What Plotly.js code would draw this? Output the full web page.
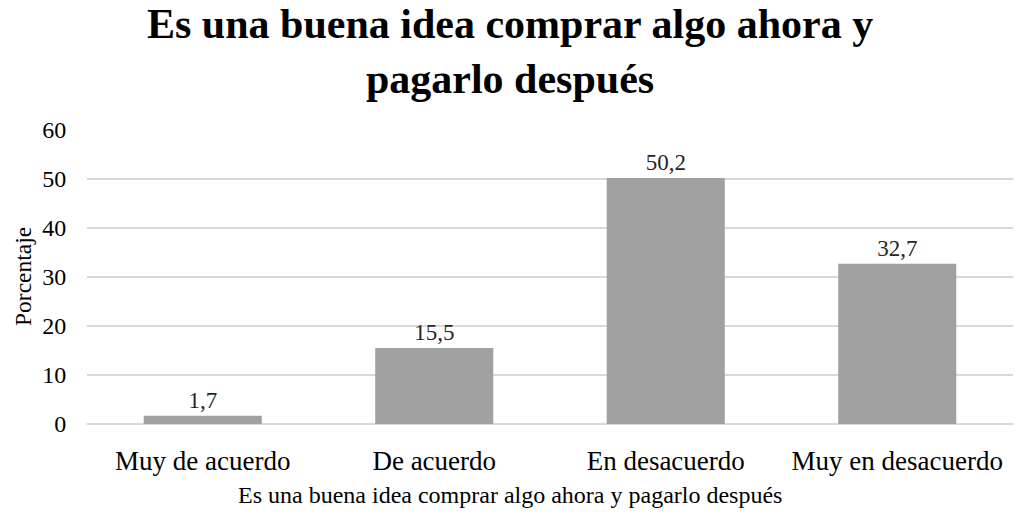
<!DOCTYPE html>
<html>
<head>
<meta charset="utf-8">
<script src="https://cdn.plot.ly/plotly-3.0.1.min.js"></script>
<style>html,body{margin:0;padding:0;background:#fff;}#chart{width:1021px;height:514px;}</style>
</head>
<body>
<div id="chart"></div>
<script>
const categories = ["Muy de acuerdo", "De acuerdo", "En desacuerdo", "Muy en desacuerdo"];
const values = [1.7, 15.5, 50.2, 32.7];
const yTicks = [0, 10, 20, 30, 40, 50, 60];
const titleText = "Es una buena idea comprar algo ahora y<br>pagarlo después";
const xTitleText = "Es una buena idea comprar algo ahora y pagarlo después";
const yTitleText = "Porcentaje";

const font = "'Liberation Serif', 'Times New Roman', serif";

const trace = {
  type: 'bar',
  x: categories,
  y: values,
  marker: {color: '#a0a0a0', line: {width: 0}},
  texttemplate: '%{y:.1f}',
  textposition: 'outside',
  cliponaxis: false,
  textfont: {family: font, size: 23, color: '#262626'},
  hoverinfo: 'none'
};

const px = (p) => (p - 87) / 926;

const layout = {
  width: 1021, height: 514,
  margin: {l: 87, r: 8, t: 130, b: 90},
  paper_bgcolor: '#fff', plot_bgcolor: '#fff',
  separators: ',.',
  bargap: 0.49,
  showlegend: false,
  annotations: [
    {
      text: '<b>' + titleText + '</b>',
      xref: 'paper', yref: 'paper',
      x: px(510), y: 1, yshift: 26,
      xanchor: 'center', yanchor: 'bottom',
      showarrow: false,
      font: {family: font, size: 42, color: '#000'}
    },
    {
      text: xTitleText,
      xref: 'paper', yref: 'paper',
      x: px(510), y: 0, yshift: -71,
      xanchor: 'center', yanchor: 'middle',
      showarrow: false,
      font: {family: font, size: 24, color: '#000'}
    },
    {
      text: yTitleText,
      xref: 'paper', yref: 'paper',
      x: 0, xshift: -64, y: 0.5,
      xanchor: 'center', yanchor: 'middle',
      textangle: -90,
      showarrow: false,
      font: {family: font, size: 23.5, color: '#000'}
    }
  ],
  xaxis: {
    type: 'category',
    showgrid: false, showline: false, zeroline: false,
    ticks: 'outside', ticklen: 13, tickcolor: 'rgba(0,0,0,0)',
    tickfont: {family: font, size: 27, color: '#000'}
  },
  yaxis: {
    range: [0, 60], tickvals: yTicks,
    showgrid: true, gridcolor: '#d9d9d9', gridwidth: 1.5,
    zeroline: true, zerolinecolor: '#d9d9d9', zerolinewidth: 1.5,
    showline: false,
    ticks: 'outside', ticklen: 15, tickcolor: 'rgba(0,0,0,0)',
    tickfont: {family: font, size: 24, color: '#000'}
  }
};

Plotly.newPlot('chart', [trace], layout, {displayModeBar: false, staticPlot: true});
</script>
</body>
</html>
